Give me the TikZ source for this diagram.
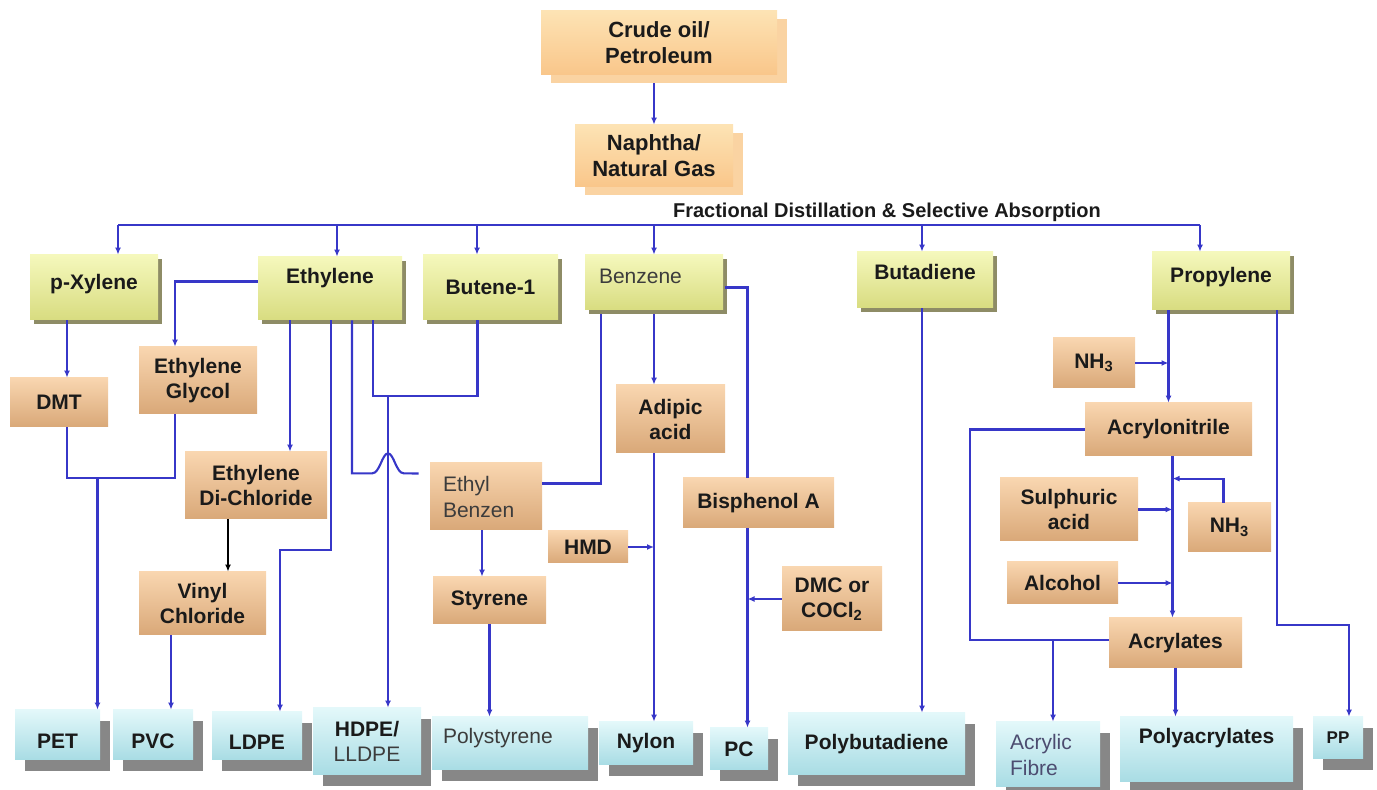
\documentclass[tikz,border=0pt]{standalone}
\usepackage{fontspec}
\setmainfont{Liberation Sans}
\usepackage{tikz}
\usetikzlibrary{positioning,calc,shadows,arrows.meta}

\definecolor{feedtop}{HTML}{FDE3B4}
\definecolor{feedbot}{HTML}{F9C68A}
\definecolor{feedshade}{HTML}{FAD3A2}
\definecolor{basetop}{HTML}{F5F8BC}
\definecolor{basebot}{HTML}{D8DC80}
\definecolor{baseshade}{HTML}{8E8C66}
\definecolor{midtop}{HTML}{F9D6B0}
\definecolor{midbot}{HTML}{D9A878}
\definecolor{prodtop}{HTML}{E3F8FA}
\definecolor{prodbot}{HTML}{A8DCE4}
\definecolor{prodshade}{HTML}{878787}
\definecolor{flowc}{RGB}{55,55,200}
\definecolor{txt}{HTML}{1A1A1A}
\definecolor{softtxt}{HTML}{3C3C3C}

\tikzset{
  wh/.style 2 args={minimum width=#1*0.5pt, minimum height=#2*0.5pt},
  nodebox/.style={inner sep=2pt, align=center, text=txt,
    font=\fontsize{10.5}{12.5}\selectfont\bfseries},
  feedbox/.style={nodebox, font=\fontsize{11}{13}\selectfont\bfseries,
    top color=feedtop, bottom color=feedbot,
    drop shadow={shadow xshift=5pt, shadow yshift=-4pt, fill=feedshade, opacity=1}},
  basebox/.style={nodebox, top color=basetop, bottom color=basebot,
    drop shadow={shadow xshift=1.8pt, shadow yshift=-1.8pt, fill=baseshade, opacity=1}},
  midbox/.style={nodebox, top color=midtop, bottom color=midbot},
  prodbox/.style={nodebox, top color=prodtop, bottom color=prodbot,
    drop shadow={shadow xshift=5pt, shadow yshift=-5.5pt, fill=prodshade, opacity=1}},
  reg/.style={font=\fontsize{10.5}{13}\selectfont\mdseries, text=softtxt},
  lft/.style={align=left, inner xsep=6.5pt, text width=#1},
  wire/.style={draw=flowc, line width=1.05pt},
  flow/.style={wire, -{Latex[length=3.5pt,width=3pt]}},
}

\begin{document}
\begin{tikzpicture}[x={(0.5pt,0)}, y={(0,-0.5pt)}]
  \useasboundingbox (0,0) rectangle (1377,790);

  % feed stock
  \node[feedbox, wh={236}{64}] (crude) at (659,43) {Crude oil/\\Petroleum};
  \node[feedbox, wh={158}{62}] (naphtha) at (654,156) {Naphtha/\\Natural Gas};
  \node[font=\fontsize{10}{12}\selectfont\bfseries, text=txt] (fdsa) at (887,212)
    {Fractional Distillation \& Selective Absorption};

  % base chemicals
  \node[basebox, wh={128}{65}, text depth=6pt] (pxylene) at (94,287.5) {p-Xylene};
  \node[basebox, wh={144}{63}, text depth=13pt] (ethylene) at (330,288.5) {Ethylene};
  \node[basebox, wh={135}{65}] (butene) at (490.5,287.5) {Butene-1};
  \node[basebox, wh={138}{55}, reg, lft=55pt, inner xsep=7pt, text depth=6pt] (benzene) at (654,282.5) {Benzene};
  \node[basebox, wh={136}{56}, text depth=8pt] (butadiene) at (925,280) {Butadiene};
  \node[basebox, wh={138}{58}, text depth=6pt] (propylene) at (1221,281) {Propylene};

  % intermediates
  \node[midbox, wh={98}{49}] (dmt) at (59,402.5) {DMT};
  \node[midbox, wh={118}{67}] (glycol) at (198,380.5) {Ethylene\\Glycol};
  \node[midbox, wh={142}{67}] (edc) at (256,485.5) {Ethylene\\Di-Chloride};
  \node[midbox, wh={127}{63}] (vinyl) at (202.5,603.5) {Vinyl\\Chloride};
  \node[midbox, wh={112}{67}, reg, lft=43pt] (ethylbenz) at (486,496.5) {Ethyl\\Benzen};
  \node[midbox, wh={113}{47}] (styrene) at (489.5,600.5) {Styrene};
  \node[midbox, wh={80}{32}] (hmd) at (588,547) {HMD};
  \node[midbox, wh={109}{68}] (adipic) at (670.5,419) {Adipic\\acid};
  \node[midbox, wh={151}{50}] (bisphenol) at (758.5,503) {Bisphenol A};
  \node[midbox, wh={100}{64}] (dmc) at (832,599) {DMC or\\COCl\textsubscript{2}};
  \node[midbox, wh={82}{50}] (nhtop) at (1094,363) {NH\textsubscript{3}};
  \node[midbox, wh={167}{53}] (acrylonitrile) at (1168.5,429.5) {Acrylonitrile};
  \node[midbox, wh={138}{63}] (sulphuric) at (1069,509.5) {Sulphuric\\acid};
  \node[midbox, wh={83}{49}] (nhright) at (1229.5,527.5) {NH\textsubscript{3}};
  \node[midbox, wh={111}{42}] (alcohol) at (1062.5,583) {Alcohol};
  \node[midbox, wh={133}{50}] (acrylates) at (1175.5,643) {Acrylates};

  % polymers
  \node[prodbox, wh={85}{50}, text height=13.5pt] (pet) at (57.5,735) {PET};
  \node[prodbox, wh={80}{50}, text height=13.5pt] (pvc) at (153,735) {PVC};
  \node[prodbox, wh={90}{48}, text height=13.5pt] (ldpe) at (257,736) {LDPE};
  \node[prodbox, wh={108}{67}] (hdpe) at (367,741.5) {HDPE/\\{\mdseries\color{softtxt}LLDPE}};
  \node[prodbox, wh={156}{53}, reg, lft=67pt, inner xsep=5.5pt, text depth=8pt] (polystyrene) at (510,743.5) {Polystyrene};
  \node[prodbox, wh={94}{43}] (nylon) at (646,743.5) {Nylon};
  \node[prodbox, wh={58}{42}] (pc) at (739,749) {PC};
  \node[prodbox, wh={177}{62}] (polybutadiene) at (876.5,744) {Polybutadiene};
  \node[prodbox, wh={104}{65}, reg, lft=38pt, inner xsep=7pt, text=black!65!blue!40!gray] (acrylic) at (1048,754.5) {Acrylic\\Fibre};
  \node[prodbox, wh={173}{65}, text depth=14pt] (polyacrylates) at (1206.5,749.5) {Polyacrylates};
  \node[prodbox, wh={50}{42}, font=\fontsize{8.5}{10}\selectfont\bfseries] (pp) at (1338,738) {PP};

  % distillation header
  \coordinate (d1) at (118,225);
  \coordinate (d2) at (337,225);
  \coordinate (d3) at (477,225);
  \coordinate (d4) at (654,225);
  \coordinate (d5) at (922,225);
  \coordinate (d6) at (1200,225);
  \draw[flow] ([yshift=-4pt]crude.south -| naphtha.north) -- (naphtha.north);
  \draw[wire] (d1) -- (d6);
  \draw[flow] (d1) -- (d1 |- pxylene.north);
  \draw[flow] (d2) -- (d2 |- ethylene.north);
  \draw[flow] (d3) -- (d3 |- butene.north);
  \draw[flow] (d4) -- (d4 |- benzene.north);
  \draw[flow] (d5) -- (d5 |- butadiene.north);
  \draw[flow] (d6) -- (d6 |- propylene.north);

  % PET route
  \coordinate (xdmt) at ($(dmt.north)+(8,0)$);
  \draw[flow] (xdmt |- pxylene.south) -- (xdmt);
  \draw[flow] ($(ethylene.west)+(0,-7)$) -| ($(glycol.north)+(-23,0)$);
  \coordinate (petj) at ($(dmt.south)+(8,51)$);
  \draw[wire] ($(dmt.south)+(8,0)$) -- (petj) -| ($(glycol.south)+(-23,0)$);
  \coordinate (xpet) at ($(pet.north)+(40,0)$);
  \draw[flow] (xpet |- petj) -- (xpet);

  % PVC route
  \coordinate (xedc) at ($(ethylene.south)+(-40,0)$);
  \draw[flow] (xedc) -- (xedc |- edc.north);
  \coordinate (xvin) at ($(edc.south)+(-28,0)$);
  \draw[black, line width=1.05pt, -{Latex[length=3.5pt,width=3pt]}] (xvin) -- (xvin |- vinyl.north);
  \coordinate (xpvc) at ($(pvc.north)+(18,0)$);
  \draw[flow] (xpvc |- vinyl.south) -- (xpvc);

  % polyethylenes
  \draw[flow] ($(ethylene.south)+(1,0)$) -- ++(0,230) -| ($(ldpe.north)+(23,0)$);
  \coordinate (hdj) at ($(butene.south)+(-13,76)$);
  \draw[wire] ($(ethylene.south)+(43,0)$) |- (hdj) -- ($(butene.south)+(-13,0)$);
  \coordinate (xhdpe) at ($(hdpe.north)+(21,0)$);
  \draw[flow] (xhdpe |- hdj) -- (xhdpe);
  \coordinate (hopC) at ($(ethylene.south)+(58,153)$);
  \draw[wire] ($(ethylene.south)+(22,0)$) |- ($(hopC)+(-16,0)$)
    .. controls ($(hopC)+(-8,0)$) and ($(hopC)+(-6,-20)$) .. ($(hopC)+(0,-20)$)
    .. controls ($(hopC)+(6,-20)$) and ($(hopC)+(8,0)$) .. ($(hopC)+(16,0)$)
    -- ($(ethylbenz.west)+(-11,-23)$);

  % benzene routes
  \draw[wire] ($(benzene.south)+(-53,4)$) |- ($(ethylbenz.east)+(0,-13)$);
  \coordinate (xsty) at ($(ethylbenz.south)+(-4,0)$);
  \draw[flow] (xsty) -- (xsty |- styrene.north);
  \draw[flow] (styrene.south) -- (styrene.south |- polystyrene.north);
  \draw[flow] ([yshift=-2pt]benzene.south) -- (benzene.south |- adipic.north);
  \draw[flow] (adipic.south -| benzene.south) -- (benzene.south |- nylon.north);
  \draw[flow] (hmd.east) -- (hmd.east -| benzene.south);
  \coordinate (pcx) at ($(bisphenol.south)+(-11,0)$);
  \draw[wire] ($(benzene.east)+(2,5)$) -| ($(bisphenol.north)+(-11,0)$);
  \draw[flow] (pcx) -- (pcx |- pc.north);
  \draw[flow] (dmc.west) -- (dmc.west -| pcx);

  % butadiene
  \coordinate (xbut) at ($(butadiene.south)+(-3,0)$);
  \draw[flow] (xbut) -- (xbut |- polybutadiene.north);

  % propylene routes
  \draw[flow] (propylene.south -| acrylonitrile.north) -- (acrylonitrile.north);
  \draw[flow] (nhtop.east) -- (nhtop.east -| acrylonitrile.north);
  \coordinate (aw) at ($(acrylates.west)+(0,-3)$);
  \draw[wire] (acrylonitrile.west) -- ++(-115,0) |- (aw);
  \coordinate (xfib) at ($(acrylic.north)+(5,0)$);
  \draw[flow] (xfib |- aw) -- (xfib);
  \coordinate (ax) at ($(acrylonitrile.south)+(4,0)$);
  \draw[flow] (ax) -- (ax |- acrylates.north);
  \draw[flow] ($(nhright.north)+(-6,0)$) |- ($(ax |- nhright.north)+(0,-24)$);
  \draw[flow] (sulphuric.east) -- (sulphuric.east -| ax);
  \draw[flow] (alcohol.east) -- (alcohol.east -| ax);
  \draw[flow] (acrylates.south) -- (acrylates.south |- polyacrylates.north);
  \draw[flow] ($(propylene.south)+(56,0)$) -- ++(0,315) -| ($(pp.north)+(11,0)$);
\end{tikzpicture}
\end{document}
